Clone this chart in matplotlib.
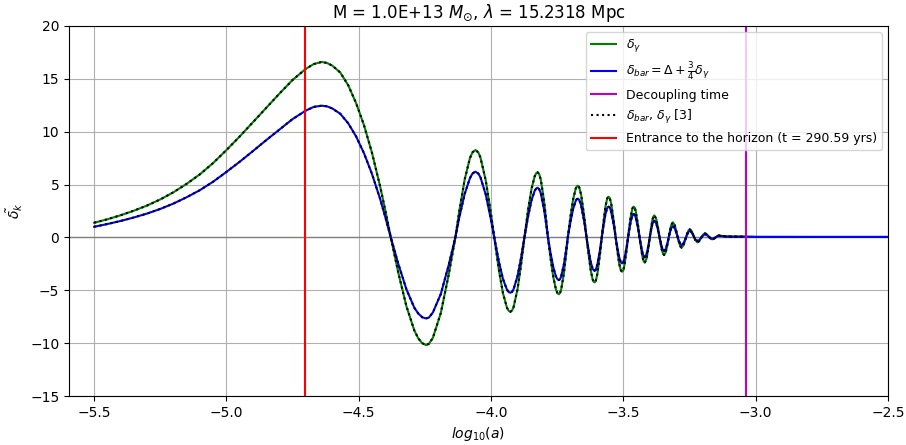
import matplotlib
matplotlib.use("Agg")
import matplotlib.pyplot as plt
import numpy as np

# log10(a) sample points
log_a = [
    -5.50, -5.45, -5.40, -5.35, -5.30, -5.25, -5.20, -5.15, -5.10, -5.05,
    -5.00, -4.95, -4.90, -4.85, -4.80, -4.75, -4.70, -4.67, -4.64,
    -4.62, -4.60, -4.57, -4.54, -4.51, -4.48, -4.45, -4.42, -4.40, -4.379,
    -4.35, -4.32, -4.29, -4.275, -4.26, -4.246, -4.235,
    -4.22, -4.19, -4.16, -4.135, -4.12, -4.10, -4.08, -4.07, -4.059, -4.048,
    -4.04, -4.02, -4.00, -3.988, -3.97, -3.955, -3.94, -3.933, -3.927, -3.921,
    -3.915, -3.90, -3.887, -3.874, -3.86, -3.847, -3.835, -3.829, -3.824, -3.818,
    -3.812, -3.80, -3.792, -3.785, -3.775, -3.765, -3.755, -3.749, -3.744, -3.739,
    -3.735, -3.725, -3.717, -3.710, -3.70, -3.69, -3.68, -3.676, -3.672, -3.667,
    -3.66, -3.648, -3.636, -3.624, -3.616, -3.6125, -3.609, -3.6045,
    -3.598, -3.588, -3.578, -3.568, -3.562, -3.559, -3.556, -3.5515,
    -3.546, -3.536, -3.526, -3.516, -3.51, -3.5075, -3.505, -3.5005,
    -3.496, -3.488, -3.48, -3.472, -3.466, -3.4635, -3.461, -3.457,
    -3.453, -3.445, -3.437, -3.429, -3.424, -3.419,
    -3.412, -3.405, -3.398, -3.391, -3.387, -3.383,
    -3.376, -3.369, -3.362, -3.355, -3.35, -3.346,
    -3.34, -3.333, -3.326, -3.319, -3.313,
    -3.306, -3.299, -3.292, -3.285, -3.28,
    -3.273, -3.266, -3.259, -3.253, -3.249,
    -3.242, -3.235, -3.228, -3.22,
    -3.213, -3.206, -3.199, -3.192,
    -3.185, -3.178, -3.171, -3.164,
    -3.1575, -3.151, -3.1445, -3.138,
    -3.125, -3.11, -3.09, -3.06, -3.04, -3.00, -2.80, -2.50,
]

delta_gamma = [
    1.39, 1.72, 2.10, 2.53, 3.02, 3.60, 4.28, 5.08, 5.98, 7.05,
    8.27, 9.55, 10.90, 12.25, 13.60, 14.90, 15.95, 16.40, 16.60,
    16.50, 16.25, 15.60, 14.40, 12.70, 10.60, 8.00, 4.90, 2.60, 0.00,
    -3.40, -6.50, -8.80, -9.55, -10.00, -10.18, -10.06,
    -9.50, -7.15, -3.50, 0.00, 2.50, 5.45, 7.50, 8.06, 8.27, 8.03,
    7.55, 5.38, 2.17, 0.00, -3.14, -5.28, -6.64, -6.95, -7.03, -6.92,
    -6.59, -4.90, -2.64, 0.00, 2.62, 4.62, 5.80, 6.09, 6.16, 5.98,
    5.46, 3.50, 1.72, 0.00, -2.00, -3.72, -4.90, -5.27, -5.37, -5.23,
    -4.91, -3.43, -1.71, 0.00, 1.96, 3.59, 4.63, 4.82, 4.89, 4.74,
    4.09, 1.99, -0.69, -3.03, -3.98, -4.17, -4.25, -4.14,
    -3.42, -1.50, 0.87, 2.87, 3.60, 3.78, 3.85, 3.75,
    3.20, 1.49, -0.67, -2.46, -3.07, -3.18, -3.24, -3.13,
    -2.63, -1.24, 0.49, 2.01, 2.72, 2.86, 2.91, 2.82,
    2.45, 1.23, -0.33, -1.68, -2.21, -2.39,
    -1.98, -0.92, 0.43, 1.57, 1.96, 2.09,
    1.77, 0.91, -0.18, -1.14, -1.55, -1.66,
    -1.41, -0.62, 0.39, 1.18, 1.43,
    1.17, 0.51, -0.27, -0.84, -0.97,
    -0.76, -0.23, 0.36, 0.70, 0.77,
    0.60, 0.18, -0.25, -0.47,
    -0.34, -0.04, 0.26, 0.39,
    0.31, 0.105, -0.10, -0.18,
    -0.12, 0.01, 0.14, 0.20,
    0.14, 0.10, 0.09, 0.08, 0.08, 0.06, 0.05, 0.05,
]

delta_bar = [
    1.01, 1.27, 1.56, 1.89, 2.26, 2.70, 3.21, 3.81, 4.48, 5.28,
    6.20, 7.16, 8.17, 9.20, 10.20, 11.20, 12.00, 12.35, 12.46,
    12.40, 12.20, 11.70, 10.80, 9.55, 7.95, 6.00, 3.70, 1.95, 0.00,
    -2.55, -4.90, -6.65, -7.20, -7.55, -7.66, -7.58,
    -7.10, -5.35, -2.60, 0.00, 1.90, 4.10, 5.60, 6.06, 6.22, 6.04,
    5.68, 4.05, 1.63, 0.00, -2.34, -3.93, -4.94, -5.17, -5.23, -5.15,
    -4.90, -3.65, -1.97, 0.00, 2.00, 3.53, 4.43, 4.64, 4.70, 4.56,
    4.17, 2.67, 1.31, 0.00, -1.50, -2.79, -3.68, -3.96, -4.03, -3.93,
    -3.68, -2.57, -1.28, 0.00, 1.47, 2.69, 3.47, 3.62, 3.67, 3.56,
    3.07, 1.49, -0.52, -2.27, -2.98, -3.09, -3.15, -3.07,
    -2.54, -1.12, 0.65, 2.17, 2.72, 2.86, 2.91, 2.84,
    2.42, 1.13, -0.50, -1.86, -2.32, -2.41, -2.45, -2.37,
    -1.99, -0.94, 0.37, 1.53, 2.07, 2.17, 2.21, 2.14,
    1.86, 0.93, -0.26, -1.32, -1.74, -1.88,
    -1.56, -0.72, 0.32, 1.19, 1.48, 1.58,
    1.34, 0.69, -0.14, -0.89, -1.20, -1.29,
    -1.10, -0.48, 0.30, 0.89, 1.08,
    0.88, 0.38, -0.20, -0.62, -0.72,
    -0.56, -0.17, 0.28, 0.57, 0.63,
    0.49, 0.15, -0.18, -0.34,
    -0.24, -0.02, 0.18, 0.30,
    0.24, 0.08, -0.07, -0.13,
    -0.09, 0.01, 0.11, 0.15,
    0.11, 0.08, 0.07, 0.07, 0.07, 0.05, 0.05, 0.05,
]

log_a_dec = -3.038        # decoupling time
log_a_horizon = -4.705    # entrance to the horizon

title = r"M = 1.0E+13 $M_{\odot}$, $\lambda$ = 15.2318 Mpc"

x = np.array(log_a)
dg = np.array(delta_gamma)
db = np.array(delta_bar)
ref = x <= log_a_dec

fig, ax = plt.subplots(figsize=(9.06, 4.45), dpi=100)
fig.subplots_adjust(left=0.0762, right=0.9801, bottom=0.110, top=0.9416)

ax.grid(True)
ax.axhline(0, color="gray", lw=1)
ax.plot(x, dg, color="g", lw=1.5, label=r"$\delta_\gamma$")
ax.plot(x, db, color="b", lw=1.5,
        label=r"$\delta_{bar} = \Delta + \frac{3}{4}\delta_\gamma$")
ax.axvline(log_a_dec, color="m", lw=1.5, label="Decoupling time")
ax.plot(x[ref], dg[ref], ":", color="k", lw=1.5,
        label=r"$\delta_{bar}$, $\delta_\gamma$ [3]")
ax.plot(x[ref], db[ref], ":", color="k", lw=1.5)
ax.axvline(log_a_horizon, color="r", lw=1.5,
           label="Entrance to the horizon (t = 290.59 yrs)")

ax.set_xlim(-5.595, -2.5)
ax.set_ylim(-15, 20)
ax.set_xlabel(r"$log_{10}(a)$")
ax.set_ylabel(r"$\tilde{\delta_k}$")
ax.set_title(title)
ax.legend(loc="upper right", fontsize=9)

fig.savefig("out.png", dpi=100)
